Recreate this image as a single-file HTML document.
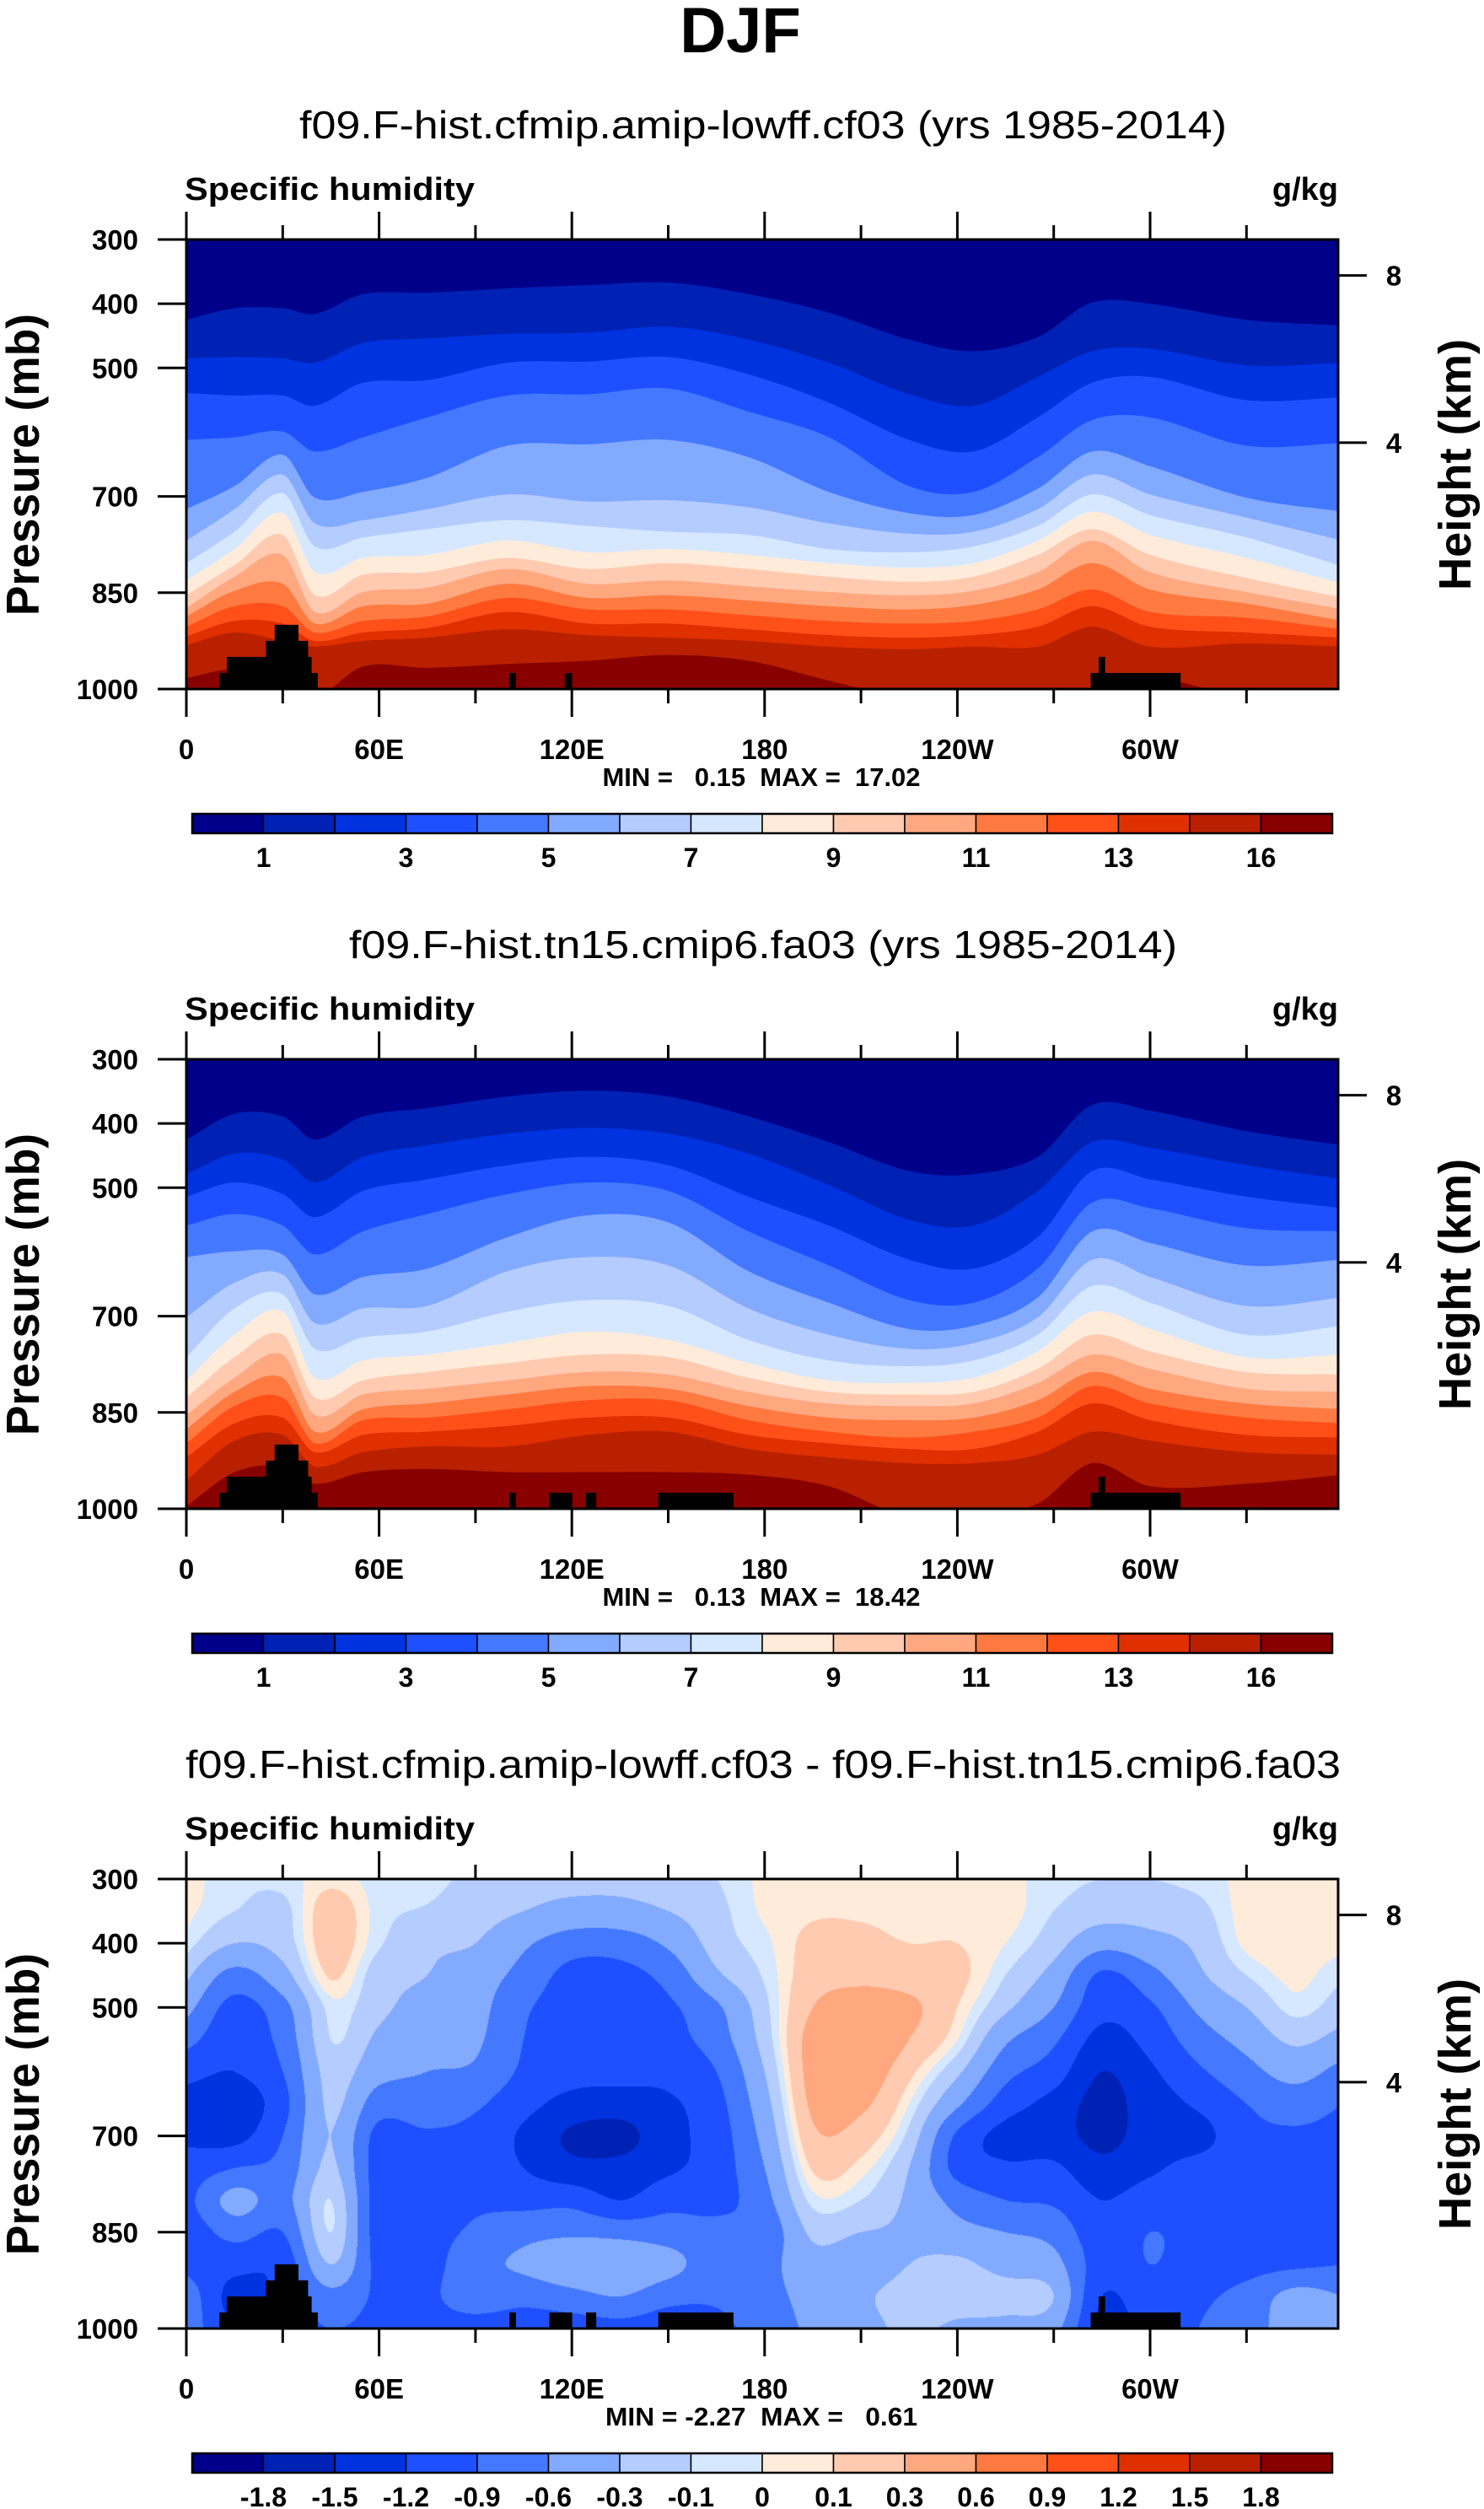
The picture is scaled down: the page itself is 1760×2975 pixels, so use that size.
<!DOCTYPE html>
<html><head><meta charset="utf-8">
<style>
html,body{margin:0;padding:0;background:#fff;}
#wrap{position:relative;width:1760px;height:2975px;overflow:hidden;background:#fff;}
#c3{position:absolute;left:221px;top:2228px;}
#svg{position:absolute;left:0;top:0;}
text{font-family:"Liberation Sans",Arial,sans-serif;fill:#000;}
.b{font-weight:bold;}
</style></head>
<body>
<div id="wrap">
<canvas id="c3" width="1366" height="533"></canvas>
<svg id="svg" width="1760" height="2975" xmlns="http://www.w3.org/2000/svg">
<defs>
<clipPath id="clip0"><rect x="221" y="284" width="1366" height="533"/></clipPath>
<clipPath id="clip1"><rect x="221" y="1256" width="1366" height="533"/></clipPath>
<clipPath id="clip2"><rect x="221" y="2228" width="1366" height="533"/></clipPath>
</defs>
<g id="fills0" clip-path="url(#clip0)"></g>
<g id="fills1" clip-path="url(#clip1)"></g>
<g id="land0" clip-path="url(#clip0)"></g>
<g id="land1" clip-path="url(#clip1)"></g>
<g id="land2" clip-path="url(#clip2)"></g>
<g id="axes"></g>

<text class="b" x="878" y="62" font-size="76" text-anchor="middle">DJF</text>

<text x="905" y="164" font-size="46" text-anchor="middle" textLength="1100" lengthAdjust="spacingAndGlyphs">f09.F-hist.cfmip.amip-lowff.cf03 (yrs 1985-2014)</text>
<text class="b" x="219" y="237" font-size="38" textLength="344" lengthAdjust="spacingAndGlyphs">Specific humidity</text>
<text class="b" x="1587" y="237" font-size="38" text-anchor="end">g/kg</text>
<text class="b" font-size="55" text-anchor="middle" textLength="358" lengthAdjust="spacingAndGlyphs" transform="translate(46,551) rotate(-90)">Pressure (mb)</text>
<text class="b" font-size="54" text-anchor="middle" textLength="298" lengthAdjust="spacingAndGlyphs" transform="translate(1744,551) rotate(-90)">Height (km)</text>
<text class="b" x="903" y="932" font-size="31" text-anchor="middle" textLength="377" lengthAdjust="spacingAndGlyphs" xml:space="preserve">MIN =   0.15  MAX =  17.02</text>

<text x="905" y="1136" font-size="46" text-anchor="middle" textLength="982" lengthAdjust="spacingAndGlyphs">f09.F-hist.tn15.cmip6.fa03 (yrs 1985-2014)</text>
<text class="b" x="219" y="1209" font-size="38" textLength="344" lengthAdjust="spacingAndGlyphs">Specific humidity</text>
<text class="b" x="1587" y="1209" font-size="38" text-anchor="end">g/kg</text>
<text class="b" font-size="55" text-anchor="middle" textLength="358" lengthAdjust="spacingAndGlyphs" transform="translate(46,1523) rotate(-90)">Pressure (mb)</text>
<text class="b" font-size="54" text-anchor="middle" textLength="298" lengthAdjust="spacingAndGlyphs" transform="translate(1744,1523) rotate(-90)">Height (km)</text>
<text class="b" x="903" y="1904" font-size="31" text-anchor="middle" textLength="377" lengthAdjust="spacingAndGlyphs" xml:space="preserve">MIN =   0.13  MAX =  18.42</text>

<text x="905" y="2108" font-size="46" text-anchor="middle" textLength="1370" lengthAdjust="spacingAndGlyphs">f09.F-hist.cfmip.amip-lowff.cf03 - f09.F-hist.tn15.cmip6.fa03</text>
<text class="b" x="219" y="2181" font-size="38" textLength="344" lengthAdjust="spacingAndGlyphs">Specific humidity</text>
<text class="b" x="1587" y="2181" font-size="38" text-anchor="end">g/kg</text>
<text class="b" font-size="55" text-anchor="middle" textLength="358" lengthAdjust="spacingAndGlyphs" transform="translate(46,2495) rotate(-90)">Pressure (mb)</text>
<text class="b" font-size="54" text-anchor="middle" textLength="298" lengthAdjust="spacingAndGlyphs" transform="translate(1744,2495) rotate(-90)">Height (km)</text>
<text class="b" x="903" y="2876" font-size="31" text-anchor="middle" textLength="370" lengthAdjust="spacingAndGlyphs" xml:space="preserve">MIN = -2.27  MAX =   0.61</text>
</svg>
</div>
<script>
// ---------- data ----------
const COLORS = ['#00008a','#0022b4','#0033e0','#1e50ff','#4478ff','#82aaff','#b4ccff','#d6e8ff','#ffebda','#ffcab0','#ffa880','#ff7a40','#ff501a','#e03000','#b82000','#880000'];
const LEVELS_Q = [1,2,3,4,5,6,7,8,9,10,11,12,13,14,16];
const LEVELS_D = [-1.8,-1.5,-1.2,-0.9,-0.6,-0.3,-0.1,0,0.1,0.3,0.6,0.9,1.2,1.5,1.8];
const CBAR_LABELS_Q = ['1','','3','','5','','7','','9','','11','','13','','16'];
const CBAR_LABELS_D = ['-1.8','-1.5','-1.2','-0.9','-0.6','-0.3','-0.1','0','0.1','0.3','0.6','0.9','1.2','1.5','1.8'];
const LON_TICKS = [0,30,60,90,120,150,180,210,240,270,300,330];
const LON_LABELS = {0:'0',60:'60E',120:'120E',180:'180',240:'120W',300:'60W'};
const P_TICKS = [300,400,500,700,850,1000];
const HEIGHT_TICKS_KM = [4,8];

// pressure (mb) where each q contour level is crossed, at each longitude node
const LON_NODES = [0,15,30,40,55,75,100,125,150,175,200,225,245,265,282,300,330,360];
const P1_CONTOURS = [
[425,485,539,612,720,769,804,831,854,874,887,903,918,932,983],
[407,483,543,608,684,720,755,782,807,825,847,871,894,912,970],
[407,485,543,599,635,666,695,726,760,791,836,871,898,925,996],
[416,492,559,630,702,742,778,818,854,880,898,912,925,934,1014],
[385,461,523,608,693,737,764,796,822,849,871,894,912,925,965],
[383,454,519,577,671,720,751,791,818,842,867,887,905,920,967],
[376,447,492,543,621,697,737,769,796,813,836,858,880,907,961],
[371,445,490,541,619,708,746,787,813,836,858,876,898,916,956],
[367,436,483,532,612,706,755,782,804,831,854,876,898,920,947],
[385,456,510,568,639,717,760,791,813,840,862,885,907,925,956],
[414,492,554,608,693,742,782,804,825,849,871,894,916,934,987],
[456,541,612,684,726,758,787,811,833,854,876,898,920,938,1014],
[474,559,630,693,729,755,778,804,825,847,869,894,916,934,1014],
[452,514,577,639,688,720,746,769,791,818,845,876,903,934,1014],
[398,474,523,581,630,666,697,724,751,769,804,845,871,903,1014],
[400,470,514,577,653,697,729,760,791,818,845,880,903,934,983],
[425,496,550,621,702,733,764,796,827,849,867,889,912,929,1014],
[434,492,546,617,724,769,809,836,858,876,894,907,920,934,1014]
];
const P2_CONTOURS = [
[425,479,514,559,608,702,764,800,827,854,876,898,920,956,996],
[385,447,492,541,599,648,688,729,764,796,818,840,867,894,943],
[389,456,510,559,604,635,666,693,729,760,796,827,858,885,934],
[425,492,546,604,666,711,751,796,827,854,880,898,912,934,961],
[389,452,505,568,639,688,733,769,800,822,845,862,885,912,943],
[376,434,487,541,626,684,724,760,787,813,836,858,880,903,938],
[358,416,465,510,577,630,693,742,773,800,822,845,871,903,943],
[349,407,452,492,543,608,675,724,760,787,809,831,858,885,943],
[358,416,465,505,554,621,684,737,764,791,813,831,858,880,943],
[389,447,514,568,630,688,737,773,796,818,840,862,885,907,947],
[429,496,559,621,679,729,769,800,818,836,858,880,898,920,965],
[474,550,612,675,720,751,778,804,822,840,862,889,907,929,1014],
[479,559,626,679,715,742,769,796,818,836,858,880,907,929,1014],
[452,505,577,626,671,702,729,755,782,804,831,858,880,916,992],
[371,429,474,523,568,612,653,693,729,760,787,809,836,880,929],
[380,438,487,532,586,639,679,720,755,782,813,836,862,894,965],
[412,465,514,563,621,684,729,764,787,813,836,858,885,912,961],
[434,487,532,568,612,671,715,760,791,818,845,867,889,916,947]
];

// difference field (g/kg): grid longitudes x pressures, one row per longitude
const D_LONS = [0,15,30,45,60,75,90,105,120,135,150,165,180,195,210,225,240,255,270,285,300,315,330,345,360];
const D_PRES = [300,350,400,450,500,550,600,650,700,750,800,850,900,950,1000];
const D_VALUES = [
[0.05,0.03,-0.04,-0.25,-0.5,-0.8,-1.1,-1.3,-1.25,-1.1,-1.0,-1.1,-1.0,-0.7,-0.7],
[-0.06,-0.1,-0.3,-0.7,-1.0,-1.1,-1.2,-1.4,-1.3,-0.9,-0.5,-0.8,-1.1,-1.3,-1.2],
[-0.05,-0.15,-0.2,-0.4,-0.7,-0.8,-0.9,-1.0,-0.9,-0.8,-0.7,-0.9,-1.1,-1.1,-1.1],
[0.05,0.2,0.2,0.12,-0.05,-0.1,-0.2,-0.25,-0.3,-0.25,-0.1,-0.1,-0.3,-0.7,-0.9],
[-0.05,-0.05,-0.08,-0.2,-0.25,-0.35,-0.5,-0.75,-1.0,-1.05,-1.05,-1.05,-1.0,-0.95,-1.0],
[-0.05,-0.12,-0.25,-0.3,-0.4,-0.45,-0.6,-0.7,-0.95,-1.05,-1.05,-1.0,-1.0,-0.95,-1.0],
[-0.15,-0.2,-0.3,-0.45,-0.5,-0.55,-0.65,-0.85,-1.0,-1.0,-0.95,-0.85,-0.7,-0.75,-1.05],
[-0.2,-0.3,-0.55,-0.7,-0.85,-0.9,-0.95,-1.1,-1.25,-1.2,-1.0,-0.7,-0.55,-0.8,-1.1],
[-0.2,-0.4,-0.75,-1.0,-1.05,-1.1,-1.1,-1.3,-1.55,-1.4,-1.0,-0.65,-0.4,-0.7,-1.1],
[-0.2,-0.4,-0.75,-1.0,-1.05,-1.1,-1.1,-1.35,-1.6,-1.4,-1.2,-0.7,-0.35,-0.6,-1.05],
[-0.15,-0.3,-0.55,-0.8,-0.95,-1.0,-1.1,-1.25,-1.3,-1.25,-1.0,-0.75,-0.5,-0.8,-1.1],
[-0.1,-0.15,-0.2,-0.35,-0.65,-0.75,-0.9,-1.0,-1.05,-1.05,-1.0,-0.8,-0.75,-0.85,-1.0],
[0.03,0.02,-0.03,-0.08,-0.15,-0.2,-0.3,-0.4,-0.5,-0.6,-0.7,-0.8,-0.7,-0.7,-0.75],
[0.05,0.08,0.15,0.2,0.3,0.4,0.4,0.35,0.25,0.12,-0.05,-0.25,-0.4,-0.5,-0.55],
[0.05,0.08,0.15,0.25,0.4,0.5,0.45,0.35,0.2,0.05,-0.1,-0.3,-0.45,-0.35,-0.4],
[0.0,0.05,0.1,0.2,0.35,0.3,0.15,0.0,-0.15,-0.3,-0.35,-0.35,-0.3,-0.2,-0.25],
[0.03,0.05,0.1,0.15,0.1,0.0,-0.25,-0.55,-0.95,-1.0,-0.7,-0.5,-0.25,-0.2,-0.35],
[0.03,0.05,0.0,-0.1,-0.25,-0.55,-0.8,-1.05,-1.3,-1.15,-0.9,-0.6,-0.4,-0.2,-0.4],
[-0.05,-0.1,-0.2,-0.4,-0.6,-0.85,-1.05,-1.3,-1.35,-1.15,-0.95,-0.7,-0.5,-0.3,-0.5],
[-0.1,-0.2,-0.5,-0.95,-1.1,-1.3,-1.5,-1.6,-1.6,-1.4,-1.2,-1.1,-1.05,-1.2,-1.3],
[-0.1,-0.2,-0.4,-0.7,-0.95,-1.1,-1.25,-1.35,-1.35,-1.25,-1.05,-0.9,-0.9,-1.0,-1.1],
[-0.05,-0.15,-0.25,-0.35,-0.55,-0.75,-0.95,-1.15,-1.3,-1.1,-1.0,-1.0,-1.0,-0.95,-0.9],
[0.03,0.05,0.03,-0.1,-0.3,-0.5,-0.7,-0.9,-1.0,-1.05,-1.05,-1.05,-1.0,-0.8,-0.7],
[0.05,0.05,0.05,0.03,-0.05,-0.25,-0.5,-0.75,-0.95,-1.0,-1.0,-1.0,-0.95,-0.5,-0.5],
[0.05,0.05,0.03,-0.08,-0.2,-0.4,-0.7,-0.9,-1.0,-1.0,-1.0,-1.0,-0.9,-0.6,-0.5]
];

// topography: [lon start, lon end, surface pressure mb]
const LAND_P1 = [[10.3,40.9,975],[12.6,39.0,950],[24.8,37.9,925],[27.5,34.9,900],[100.6,102.6,975],[117.8,120.1,975],[281.5,309.5,975],[284,286,950]];
const LAND_P23 = [[10.3,40.9,975],[12.6,39.0,950],[24.8,37.9,925],[27.5,34.9,900],[100.6,102.6,975],[113,120.1,975],[124.4,127.6,975],[146.9,170.3,975],[281.5,309.5,975],[284,286,950]];

// ---------- geometry ----------
const NS = 'http://www.w3.org/2000/svg';
const X0 = 221, X1 = 1587, PW = 1366, PH = 533, TOP0 = 284, DY = 972;
const xOf = lon => X0 + lon * 3.81;
const yOf = (p, k) => TOP0 + k * DY + (p - 300) / 700 * PH;
const svg = document.getElementById('svg');

function mk(tag, attrs, parent) {
  const el = document.createElementNS(NS, tag);
  for (const a in attrs) el.setAttribute(a, attrs[a]);
  (parent || svg).appendChild(el);
  return el;
}

function hermite(xs, ys, x) {
  const n = xs.length;
  let i = 0;
  while (i < n - 2 && x > xs[i + 1]) i++;
  const x0 = xs[i], x1 = xs[i + 1], h = x1 - x0;
  const t = Math.min(1, Math.max(0, (x - x0) / h));
  const m0 = i > 0 ? (ys[i + 1] - ys[i - 1]) / (xs[i + 1] - xs[i - 1]) : (ys[1] - ys[0]) / (xs[1] - xs[0]);
  const m1 = i + 2 < n ? (ys[i + 2] - ys[i]) / (xs[i + 2] - xs[i]) : (ys[n - 1] - ys[n - 2]) / (xs[n - 1] - xs[n - 2]);
  const t2 = t * t, t3 = t2 * t;
  return (2 * t3 - 3 * t2 + 1) * ys[i] + (t3 - 2 * t2 + t) * h * m0 + (-2 * t3 + 3 * t2) * ys[i + 1] + (t3 - t2) * h * m1;
}

// ---------- panels 1 & 2: layered contour fills ----------
function drawLayered(contours, k) {
  const g = document.getElementById('fills' + k);
  const bg = mk('rect', {x: X0, y: yOf(300, k), width: PW, height: PH, fill: COLORS[0]}, g);
  
  
  for (let lev = 0; lev < LEVELS_Q.length; lev++) {
    const ys = contours.map(r => r[lev]);
    let d = '';
    for (let lon = 0; lon <= 360; lon += 0.5) {
      const p = Math.min(1000, hermite(LON_NODES, ys, lon));
      d += (lon === 0 ? 'M' : 'L') + xOf(lon).toFixed(1) + ',' + yOf(p, k).toFixed(1);
    }
    d += 'L' + xOf(360) + ',' + (yOf(1000, k) + 2) + 'L' + X0 + ',' + (yOf(1000, k) + 2) + 'Z';
    const path = mk('path', {d: d, fill: COLORS[lev + 1]}, g);
    
    
  }
}
drawLayered(P1_CONTOURS, 0);
drawLayered(P2_CONTOURS, 1);

// ---------- panel 3: difference field on canvas ----------
(function () {
  const cv = document.getElementById('c3');
  const ctx = cv.getContext('2d');
  const img = ctx.createImageData(PW, PH);
  const rgb = COLORS.map(c => [parseInt(c.slice(1, 3), 16), parseInt(c.slice(3, 5), 16), parseInt(c.slice(5, 7), 16)]);
  const nP = D_PRES.length;
  for (let px = 0; px < PW; px++) {
    const lon = (px + 0.5) / 3.81;
    const col = [];
    for (let j = 0; j < nP; j++) col.push(hermite(D_LONS, D_VALUES.map(r => r[j]), lon));
    for (let py = 0; py < PH; py++) {
      const p = 300 + (py + 0.5) / PH * 700;
      const v = hermite(D_PRES, col, p);
      let idx = 0;
      while (idx < LEVELS_D.length && v >= LEVELS_D[idx]) idx++;
      const c = rgb[idx], o = (py * PW + px) * 4;
      img.data[o] = c[0]; img.data[o + 1] = c[1]; img.data[o + 2] = c[2]; img.data[o + 3] = 255;
    }
  }
  ctx.putImageData(img, 0, 0);
})();

// ---------- land ----------
function drawLand(list, k) {
  const g = document.getElementById('land' + k);
  list.forEach(r => {
    const el = mk('rect', {x: xOf(r[0]), y: yOf(r[2], k), width: xOf(r[1]) - xOf(r[0]), height: yOf(1000, k) - yOf(r[2], k) + 2, fill: '#000'}, g);
    
    
  });
}
drawLand(LAND_P1, 0);
drawLand(LAND_P23, 1);
drawLand(LAND_P23, 2);

// ---------- axes, ticks, colorbars ----------
function heightToP(km) { return 1013.25 * Math.pow(1 - 2.25577e-5 * km * 1000, 5.25588); }

function drawAxes(k) {
  const ax = document.getElementById('axes');
  const top = yOf(300, k), bot = yOf(1000, k);
  const frame = mk('rect', {x: X0, y: top, width: PW, height: PH, fill: 'none', stroke: '#000', 'stroke-width': 3}, ax);
  
  
  LON_TICKS.forEach(lon => {
    const x = xOf(lon), major = lon % 60 === 0, len = major ? 33 : 17;
    const t1 = mk('line', {x1: x, x2: x, y1: top - len, y2: top, stroke: '#000', 'stroke-width': 3}, ax);
    
    
    const t2 = mk('line', {x1: x, x2: x, y1: bot, y2: bot + len, stroke: '#000', 'stroke-width': 3}, ax);
    
    
    if (major) {
      const lb = mk('text', {x: x, y: bot + 83, 'font-size': 33, 'font-weight': 'bold', 'text-anchor': 'middle'}, ax);
      lb.textContent = LON_LABELS[lon];
      
      
    }
  });
  P_TICKS.forEach(p => {
    const y = yOf(p, k);
    const t = mk('line', {x1: 187, x2: X0, y1: y, y2: y, stroke: '#000', 'stroke-width': 3}, ax);
    
    
    const lb = mk('text', {x: 164, y: y + 12, 'font-size': 33, 'font-weight': 'bold', 'text-anchor': 'end'}, ax);
    lb.textContent = String(p);
    
    
  });
  HEIGHT_TICKS_KM.forEach(h => {
    const y = yOf(heightToP(h), k);
    const t = mk('line', {x1: X1, x2: 1621, y1: y, y2: y, stroke: '#000', 'stroke-width': 3}, ax);
    
    
    const lb = mk('text', {x: 1653, y: y + 12, 'font-size': 33, 'font-weight': 'bold', 'text-anchor': 'middle'}, ax);
    lb.textContent = String(h);
    
    
  });
  // colorbar
  const cx0 = 228, cw = 1352 / 16, cy = 965 + k * DY, ch = 23;
  const labels = k === 2 ? CBAR_LABELS_D : CBAR_LABELS_Q;
  COLORS.forEach((c, i) => {
    const b = mk('rect', {x: cx0 + i * cw, y: cy, width: cw, height: ch, fill: c, stroke: '#000', 'stroke-width': 1.5}, ax);
    
    
  });
  const ob = mk('rect', {x: cx0, y: cy, width: 1352, height: ch, fill: 'none', stroke: '#000', 'stroke-width': 2.5}, ax);
  
  
  labels.forEach((s, i) => {
    if (!s) return;
    const lb = mk('text', {x: cx0 + (i + 1) * cw, y: cy + 63, 'font-size': 32, 'font-weight': 'bold', 'text-anchor': 'middle'}, ax);
    lb.textContent = s;
    
    
  });
}
drawAxes(0);
drawAxes(1);
drawAxes(2);
</script>
</body></html>
